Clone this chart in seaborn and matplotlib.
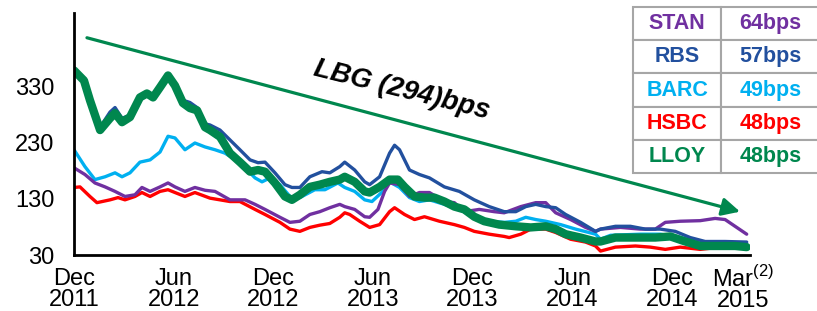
import numpy as np
import matplotlib
matplotlib.use("Agg")
import matplotlib.pyplot as plt
import matplotlib.transforms as mtransforms
import seaborn as sns

sns.set_theme(style="white")
plt.rcParams['font.family'] = ['Liberation Sans', 'DejaVu Sans']
plt.rcParams['mathtext.fontset'] = 'custom'
plt.rcParams['mathtext.rm'] = 'Liberation Sans'
plt.rcParams['text.color'] = 'black'
plt.rcParams['xtick.color'] = 'black'
plt.rcParams['ytick.color'] = 'black'

# x = months since Dec 2011, y = spread in bps
lloy_x = [0, 0.6, 0.96, 1.57, 2.17, 2.47, 2.89, 3.37, 3.97, 4.39,
          4.76, 5.18, 5.66, 6.08, 6.56, 6.98, 7.41, 7.89, 8.19, 8.79,
          9.39, 9.99, 10.6, 11.08, 11.5, 12.1, 12.7, 13.12, 13.6, 14.2,
          14.8, 15.4, 16.0, 16.3, 16.9, 17.5, 17.8, 18.4, 19.0, 19.5,
          19.9, 20.5, 21.1, 21.7, 22.3, 22.9, 23.5, 24.1, 24.7, 25.6,
          26.6, 27.5, 28.4, 29.0, 29.6, 30.5, 31.4, 31.7, 32.6, 33.8,
          35.0, 35.9, 36.8, 37.7, 38.9, 39.8, 40.5]
lloy_y = [358, 340, 305, 252, 273, 282, 266, 275, 310, 317,
          310, 328, 349, 331, 300, 291, 287, 257, 252, 240,
          211, 195, 178, 181, 178, 158, 134, 128, 137, 151,
          155, 160, 164, 169, 160, 143, 141, 151, 164, 164,
          151, 134, 132, 132, 125, 116, 111, 98, 90, 84,
          81, 79, 81, 76, 67, 61, 54, 54, 61, 61,
          61, 63, 54, 46, 46, 46, 44]

rbs_x = [0, 0.6, 1.08, 1.57, 2.17, 2.47, 2.89, 3.37, 3.97, 4.39,
         4.76, 5.18, 5.66, 6.08, 6.56, 6.98, 7.41, 7.89, 8.19, 8.79,
         9.99, 10.6, 11.08, 11.5, 12.1, 12.7, 13.12, 13.6, 14.2, 14.93,
         15.4, 16.0, 16.3, 16.9, 17.5, 17.8, 18.4, 19.0, 19.3, 19.6,
         20.2, 20.8, 21.4, 22.3, 23.2, 24.1, 25.0, 25.9, 26.6, 27.2,
         27.8, 28.4, 29.0, 29.6, 30.5, 31.4, 31.7, 32.6, 33.5, 34.4,
         35.3, 36.2, 37.1, 38.0, 39.2, 40.5]
rbs_y = [361, 340, 301, 257, 284, 292, 273, 278, 310, 317,
         310, 328, 349, 331, 305, 301, 292, 263, 261, 252,
         217, 199, 194, 195, 176, 155, 150, 150, 169, 178,
         176, 187, 195, 181, 160, 155, 169, 211, 225, 217,
         181, 173, 167, 151, 143, 128, 116, 107, 107, 116,
         120, 116, 114, 102, 88, 72, 76, 81, 81, 76,
         76, 72, 61, 54, 54, 53]

barc_x = [0, 0.66, 1.26, 1.87, 2.47, 2.89, 3.37, 3.97, 4.58, 5.18,
          5.66, 6.08, 6.68, 7.28, 7.89, 8.49, 9.09, 9.99, 10.6, 10.9,
          11.32, 11.8, 12.4, 13.0, 13.6, 14.5, 15.11, 15.89, 16.3, 16.9,
          17.5, 17.94, 18.7, 19.0, 19.6, 20.2, 20.8, 21.4, 22.3, 23.2,
          24.1, 25.0, 25.9, 26.6, 27.2, 27.8, 28.4, 29.3, 30.2, 31.4,
          31.7, 32.3, 34.1, 35.3, 36.5, 37.7, 40.5]
barc_y = [217, 187, 164, 169, 176, 169, 176, 195, 199, 213,
          241, 238, 217, 229, 222, 217, 211, 194, 176, 167,
          160, 167, 155, 134, 132, 146, 146, 158, 150, 143,
          128, 125, 146, 160, 150, 132, 125, 128, 120, 111,
          97, 90, 88, 90, 97, 93, 90, 84, 76, 67,
          58, 65, 67, 67, 61, 53, 49]

stan_x = [0, 0.66, 1.26, 1.87, 2.47, 3.07, 3.67, 4.09, 4.58, 5.18,
          5.66, 6.08, 6.68, 7.28, 7.89, 8.49, 9.39, 10.3, 10.9, 11.5,
          12.4, 13.0, 13.6, 14.2, 14.8, 15.4, 16.0, 16.3, 16.9, 17.5,
          17.8, 18.3, 18.7, 19.0, 19.6, 20.2, 20.8, 21.4, 22.3, 22.9,
          23.5, 24.4, 25.3, 25.9, 26.9, 27.8, 28.4, 29.0, 29.9, 30.8,
          31.4, 31.7, 32.9, 34.1, 35.0, 35.6, 36.5, 37.7, 38.6, 39.2,
          39.8, 40.5]
stan_y = [185, 173, 158, 151, 143, 134, 137, 150, 143, 151,
          158, 151, 143, 150, 145, 143, 128, 128, 120, 111,
          97, 88, 90, 102, 107, 114, 120, 116, 111, 98,
          97, 111, 143, 158, 155, 134, 141, 141, 125, 123,
          107, 111, 107, 105, 116, 123, 123, 105, 93, 79,
          72, 76, 79, 76, 76, 88, 90, 91, 95, 93,
          81, 67]

hsbc_x = [0, 0.36, 0.96, 1.38, 2.17, 2.65, 3.07, 3.67, 4.09, 4.58,
          5.18, 5.66, 6.08, 6.68, 7.28, 8.19, 8.79, 9.39, 9.99, 10.9,
          11.5, 12.4, 13.0, 13.6, 14.2, 14.8, 15.4, 16.0, 16.3, 16.6,
          17.2, 17.8, 18.4, 19.0, 19.3, 19.9, 20.5, 21.1, 22.0, 22.9,
          23.5, 24.1, 25.0, 25.9, 26.2, 26.9, 27.5, 28.4, 29.0, 29.9,
          30.8, 31.4, 31.7, 32.6, 33.8, 34.7, 35.6, 36.5, 37.7, 38.9,
          40.5]
hsbc_y = [150, 151, 134, 123, 128, 132, 128, 134, 141, 134,
          143, 146, 141, 134, 141, 131, 128, 125, 125, 111,
          102, 88, 76, 72, 79, 83, 86, 97, 105, 102,
          90, 79, 84, 107, 114, 102, 93, 98, 90, 84,
          79, 72, 67, 63, 61, 67, 76, 76, 70, 58,
          53, 46, 37, 44, 46, 44, 40, 44, 40, 44,
          44]

tick_pos = [0, 6, 12, 18, 24, 30, 36]
tick_labels = ["Dec\n2011", "Jun\n2012", "Dec\n2012", "Jun\n2013",
               "Dec\n2013", "Jun\n2014", "Dec\n2014"]
last_pos = 40.3
last_label = "Mar$^{(2)}$\n2015"
y_ticks = [30, 130, 230, 330]

banks = ["STAN", "RBS", "BARC", "HSBC", "LLOY"]
latest = ["64bps", "57bps", "49bps", "48bps", "48bps"]

colors = {"STAN": "#7030A0", "RBS": "#22509E", "BARC": "#00B0F0",
          "HSBC": "#FF0000", "LLOY": "#00874E"}

fig = plt.figure(figsize=(8.17, 3.11), dpi=100)
ax = fig.add_axes([74/817, 1-255/311, 676/817, 242/311])

series = [("HSBC", hsbc_x, hsbc_y, 2.4), ("BARC", barc_x, barc_y, 2.4),
          ("STAN", stan_x, stan_y, 2.4), ("RBS", rbs_x, rbs_y, 2.4),
          ("LLOY", lloy_x, lloy_y, 6.0)]
for name, xs, ys, lw in series:
    sns.lineplot(x=xs, y=ys, color=colors[name], lw=lw, ax=ax,
                 solid_joinstyle='round', solid_capstyle='round')

ax.set_xlim(0, 40.7)
ax.set_ylim(30, 460)
ax.set_xticks(tick_pos)
ax.set_xticklabels(tick_labels, fontsize=17, linespacing=0.95)
ax.set_yticks(y_ticks)
ax.set_yticklabels([str(v) for v in y_ticks], fontsize=17)
ax.tick_params(axis='both', length=0)
ax.tick_params(axis='x', pad=9.5)
ax.tick_params(axis='y', pad=14)
# last date label sits at its own x (the superscript makes it taller)
trans = mtransforms.blended_transform_factory(ax.transData, ax.transAxes)
ax.text(last_pos, -11/242, last_label, transform=trans, fontsize=17,
        ha='center', va='top', linespacing=0.88)
for s in ['top', 'right']:
    ax.spines[s].set_visible(False)
for s in ['left', 'bottom']:
    ax.spines[s].set_color('black')
    ax.spines[s].set_linewidth(2)

# trend arrow and label
ax.annotate("", xy=(40.1, 107), xytext=(0.78, 416),
            arrowprops=dict(arrowstyle="-|>", color="#00874E", lw=2.3,
                            mutation_scale=27, shrinkA=0, shrinkB=0))
ax.text(19.7, 323, "LBG (294)bps", fontsize=20, fontweight='bold',
        fontstyle='italic', rotation=-14, rotation_mode='anchor',
        ha='center', va='center', color='black')

# summary table
tbl = ax.table(cellText=[[b, l] for b, l in zip(banks, latest)],
               cellLoc='center', colWidths=[87, 97],
               bbox=[(633-74)/676, (255-173)/242, (820-633)/676, 166/242])
tbl.auto_set_font_size(False)
tbl.set_fontsize(15.5)
tbl.set_clip_on(False)
for (r, c), cell in tbl.get_celld().items():
    cell.set_edgecolor('#A6A6A6')
    cell.set_linewidth(1.5)
    cell.set_facecolor('white')
    cell.get_text().set_color(colors[banks[r]])
    cell.get_text().set_fontweight('bold')

fig.savefig("out.png", dpi=100)
